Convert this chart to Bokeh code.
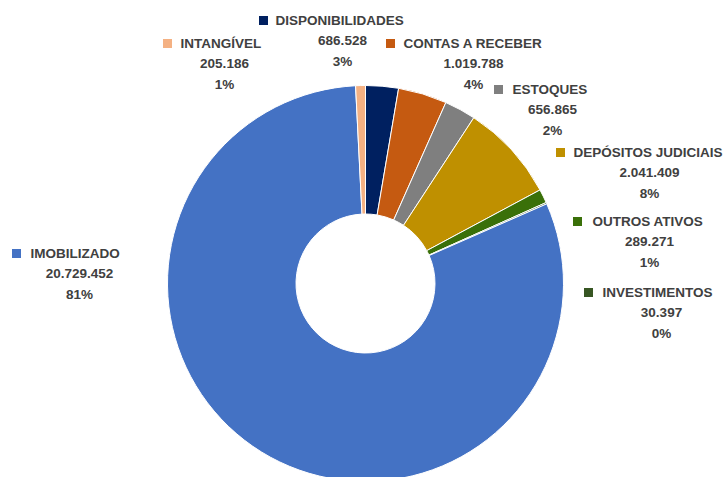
import math
from bokeh.plotting import figure
from bokeh.models import ColumnDataSource, Range1d
from bokeh.core.properties import value
from bokeh.embed import file_html
from bokeh.resources import INLINE

# ---- data ----
categories = ["DISPONIBILIDADES", "CONTAS A RECEBER", "ESTOQUES", "DEPÓSITOS JUDICIAIS",
              "OUTROS ATIVOS", "INVESTIMENTOS", "IMOBILIZADO", "INTANGÍVEL"]
amounts = [686528, 1019788, 656865, 2041409, 289271, 30397, 20729452, 205186]
pct_labels = ["3%", "4%", "2%", "8%", "1%", "0%", "81%", "1%"]
colors = ["#002060", "#C55A11", "#7F7F7F", "#BF9000", "#3A7009", "#375623", "#4472C4", "#F4B183"]

# ---- layout (picture pixel coordinates) ----
W, H = 725, 477
CX, CY = 365, 283          # donut centre
R_OUT, R_IN = 198, 69.5
# per label: square centre x, name start x, value/pct centre x, first line y
sq_x = [263, 390, 498, 560, 577, 588, 16, 167]
name_x = [275, 403, 512, 573, 592, 602, 30, 180]
val_cx = [342, 473, 552, 649, 649, 661, 79, 224]
line_y = [20, 43, 89, 152, 221, 292, 253, 43]
LINE_GAP = 20.3

def px(x):
    return x

def py(y):
    return H - y

total = sum(amounts)
starts, ends = [], []
acc = 0.0
for a in amounts:
    starts.append(math.pi / 2 - acc / total * 2 * math.pi)
    acc += a
    ends.append(math.pi / 2 - acc / total * 2 * math.pi)

p = figure(width=W, height=H, x_range=Range1d(0, W), y_range=Range1d(0, H),
           output_backend="svg", toolbar_location=None, min_border=0)
p.axis.visible = False
p.grid.visible = False
p.outline_line_color = None
p.background_fill_color = "white"
p.border_fill_color = "white"

src = ColumnDataSource(dict(start=starts, end=ends, color=colors, cat=categories))
p.annular_wedge(x=px(CX), y=py(CY), inner_radius=R_IN, outer_radius=R_OUT,
                start_angle="start", end_angle="end", direction="clock",
                fill_color="color", line_color="white", line_width=1, source=src)

value_strs = [f"{a:,}".replace(",", ".") for a in amounts]
lab = ColumnDataSource(dict(
    sx=[px(x) for x in sq_x], sy=[py(y) for y in line_y],
    nx=[px(x) for x in name_x], ny=[py(y) for y in line_y],
    vx=[px(x) for x in val_cx], vy=[py(y + LINE_GAP) for y in line_y],
    qy=[py(y + 2 * LINE_GAP) for y in line_y],
    name=categories, val=value_strs, pct=pct_labels, color=colors))

p.scatter(x="sx", y="sy", marker="square", size=9, fill_color="color",
          line_color=None, source=lab)
common = dict(text_font=value("Liberation Sans"), text_font_style="bold",
              text_font_size="13.5px", text_color="#404040", text_baseline="middle",
              source=lab)
p.text(x="nx", y="ny", text="name", text_align="left", **common)
p.text(x="vx", y="vy", text="val", text_align="center", **common)
p.text(x="vx", y="qy", text="pct", text_align="center", **common)

open("out.html", "w").write(file_html(p, INLINE))
